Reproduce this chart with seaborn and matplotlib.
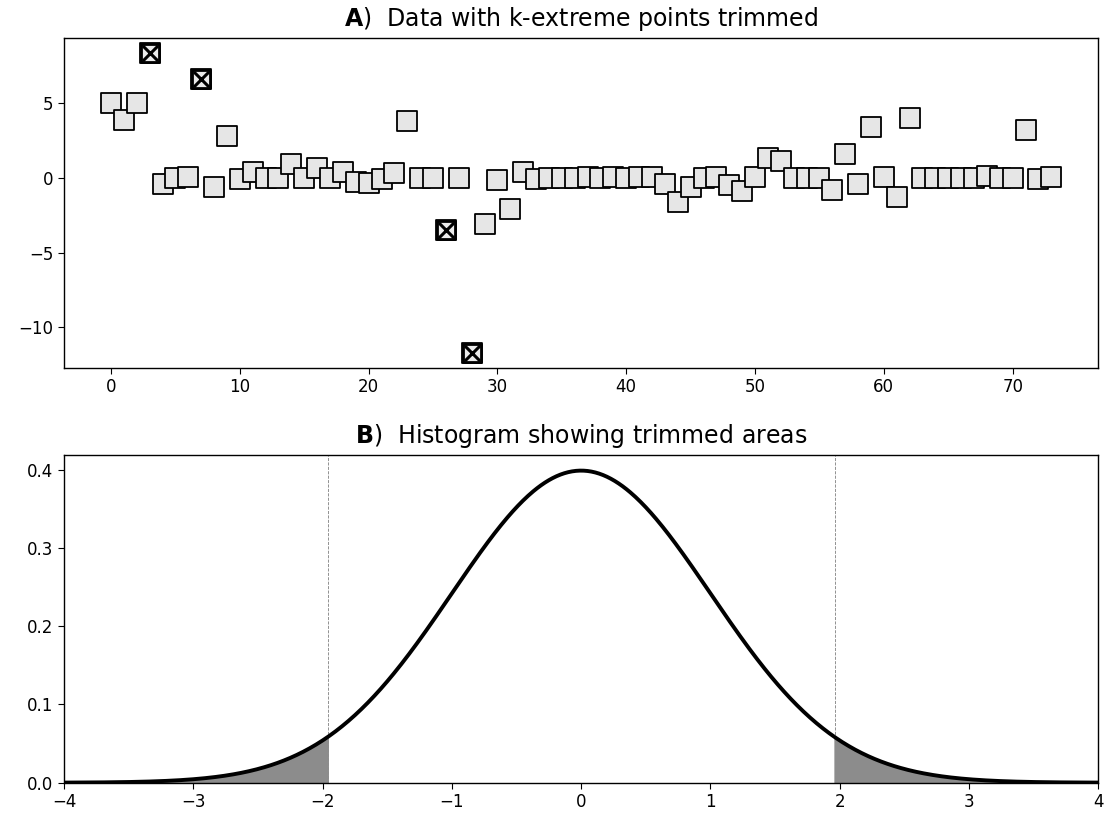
import numpy as np
import pandas as pd
import matplotlib
matplotlib.use("Agg")
import matplotlib.pyplot as plt
from matplotlib.ticker import MultipleLocator, FormatStrFormatter
import seaborn as sns

# Observed values, one per sample index
values = [
    5.0, 3.85, 5.0, 8.32, -0.43, -0.04, 0.07, 6.62, -0.63, 2.82,
    -0.07, 0.36, -0.05, -0.03, 0.92, -0.03, 0.67, -0.03, 0.36, -0.27,
    -0.36, -0.07, 0.31, 3.76, -0.02, -0.02, -3.49, -0.02, -11.7, -3.09,
    -0.13, -2.06, 0.36, -0.07, -0.05, -0.05, -0.05, 0.07, -0.05, 0.07,
    -0.05, 0.07, 0.07, -0.4, -1.6, -0.63, -0.05, 0.07, -0.5, -0.9,
    0.07, 1.32, 1.14, -0.02, -0.02, -0.02, -0.81, 1.59, -0.43, 3.4,
    0.07, -1.3, 3.98, -0.02, -0.02, -0.02, -0.02, -0.02, 0.1, -0.02,
    -0.02, 3.22, -0.1, 0.07,
]
# Indices of the k most extreme samples removed by trimming
trimmed_idx = [3, 7, 26, 28]

# Standard-normal cut-offs bounding the trimmed tails
z_cut = 1.96
x_ticks_b = [-4, -3, -2, -1, 0, 1, 2, 3, 4]

df = pd.DataFrame({"idx": np.arange(len(values)), "val": values})
df_trim = df.iloc[trimmed_idx]

plt.rcParams.update({
    "xtick.labelsize": 12,
    "ytick.labelsize": 12,
    "xtick.major.size": 4.2,
    "ytick.major.size": 4.2,
    "axes.linewidth": 1.0,
})

fig = plt.figure(figsize=(11.06, 8.16), dpi=100)
ax1 = fig.add_axes([0.05787, 0.54939, 0.93517, 0.40368])
ax2 = fig.add_axes([0.05787, 0.04081, 0.93517, 0.40159])

# Panel A: all samples as grey squares, trimmed ones marked with an X
sns.scatterplot(data=df, x="idx", y="val", ax=ax1, marker="s", s=190,
                color="0.9", edgecolor="k", linewidth=1.3, zorder=2)
sns.scatterplot(data=df_trim, x="idx", y="val", ax=ax1, marker="s", s=170,
                color="0.92", edgecolor="k", linewidth=2.0, zorder=3)
sns.scatterplot(data=df_trim, x="idx", y="val", ax=ax1, marker="x", s=120,
                color="k", linewidth=2.2, zorder=4)
ax1.set_xlabel("")
ax1.set_ylabel("")
ax1.yaxis.set_major_locator(MultipleLocator(5))
ax1.set_title(r"$\bf{A}$)  Data with k-extreme points trimmed",
              fontsize=17, pad=9)

# Panel B: standard normal density with shaded tails beyond the cut-offs
xs = np.linspace(-4, 4, 801)
pdf = np.exp(-xs ** 2 / 2) / np.sqrt(2 * np.pi)
sns.lineplot(x=xs, y=pdf, ax=ax2, color="k", linewidth=2.8, zorder=3)
ax2.fill_between(xs, pdf, where=xs <= -z_cut, color="0.55", zorder=2)
ax2.fill_between(xs, pdf, where=xs >= z_cut, color="0.55", zorder=2)
for c in (-z_cut, z_cut):
    ax2.axvline(c, color="0.5", linestyle="--", linewidth=0.6, zorder=1)
ax2.set_xlim(-4, 4)
ax2.set_ylim(0, None)
ax2.set_xticks(x_ticks_b)
ax2.yaxis.set_major_locator(MultipleLocator(0.1))
ax2.yaxis.set_major_formatter(FormatStrFormatter("%.1f"))
ax2.set_title(r"$\bf{B}$)  Histogram showing trimmed areas",
              fontsize=17, pad=9)

fig.savefig("out.png", dpi=100)
